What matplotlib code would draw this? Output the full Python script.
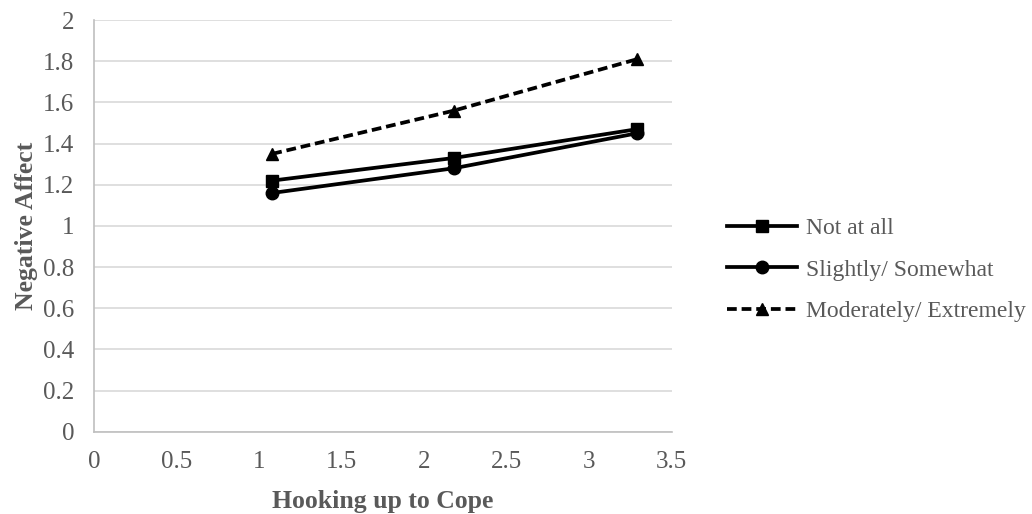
import matplotlib.pyplot as plt

# Moderator levels and their predicted values
x_vals = [1.08, 2.18, 3.29]
not_at_all = [1.22, 1.33, 1.47]
slightly = [1.16, 1.28, 1.45]
moderately = [1.35, 1.56, 1.81]
labels = ['Not at all', 'Slightly/ Somewhat', 'Moderately/ Extremely']

plt.rcParams['font.family'] = ['Liberation Serif', 'DejaVu Serif']

fig = plt.figure(figsize=(10.32, 5.14), dpi=100)
ax = fig.add_axes([0.091, 0.160, 0.560, 0.801])

ax.plot(x_vals, not_at_all, color='black', lw=2.7, marker='s', ms=9, label=labels[0])
ax.plot(x_vals, slightly, color='black', lw=2.7, marker='o', ms=9, label=labels[1])
ax.plot(x_vals, moderately, color='black', lw=2.7, ls=(0, (2.6, 1.3)), marker='^', ms=9,
        label=labels[2])

ax.set_xlim(0, 3.5)
ax.set_ylim(0, 2)
ax.set_xticks([0, 0.5, 1, 1.5, 2, 2.5, 3, 3.5])
ax.set_xticklabels(['0', '0.5', '1', '1.5', '2', '2.5', '3', '3.5'])
ax.set_yticks([0, 0.2, 0.4, 0.6, 0.8, 1, 1.2, 1.4, 1.6, 1.8, 2])
ax.set_yticklabels(['0', '0.2', '0.4', '0.6', '0.8', '1', '1.2', '1.4', '1.6', '1.8', '2'])

ax.grid(axis='y', color='#d9d9d9', lw=1.2)
ax.set_axisbelow(True)
for s in ['top', 'right']:
    ax.spines[s].set_visible(False)
for s in ['left', 'bottom']:
    ax.spines[s].set_color('#bfbfbf')
    ax.spines[s].set_linewidth(1.2)
ax.tick_params(length=0, labelsize=18, colors='#595959')
ax.tick_params(axis='x', pad=14)
ax.tick_params(axis='y', pad=14)

ax.set_xlabel('Hooking up to Cope', fontsize=18.5, fontweight='bold', color='#595959', labelpad=12)
ax.set_ylabel('Negative Affect', fontsize=18.5, fontweight='bold', color='#595959', labelpad=4)

fig.legend(loc='center left', bbox_to_anchor=(0.704, 0.475), frameon=False, fontsize=17,
           handlelength=3.0, handletextpad=0.35, labelspacing=0.85, labelcolor='#595959',
           borderaxespad=0, borderpad=0)

fig.savefig('out.png', dpi=100)
